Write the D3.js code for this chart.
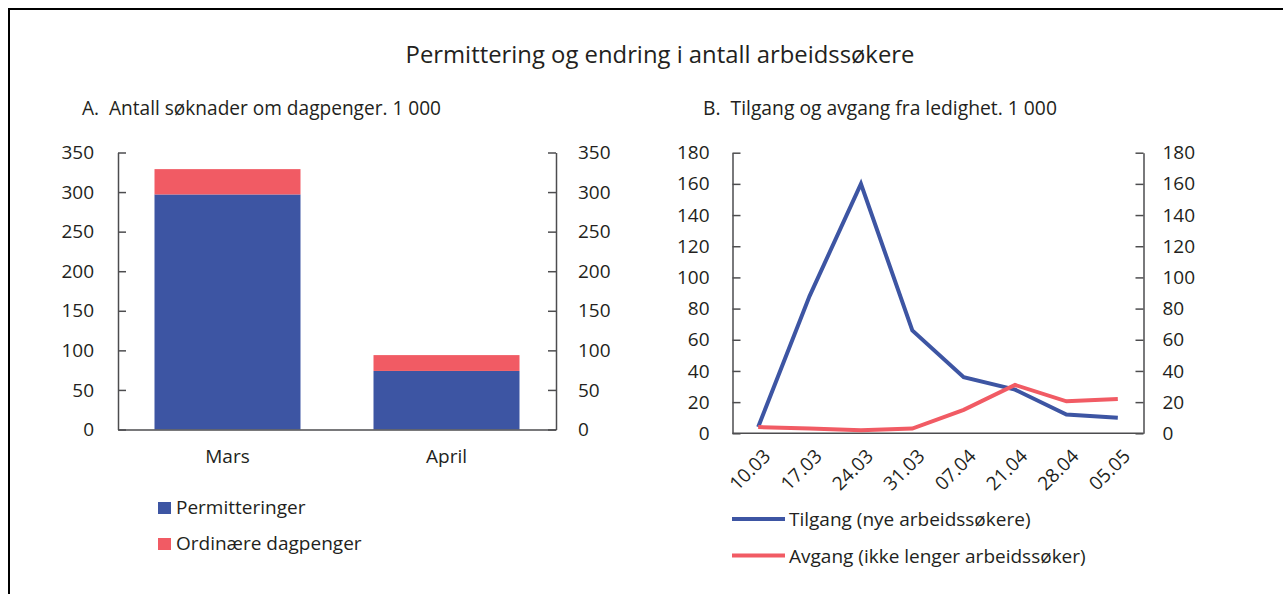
<!DOCTYPE html>
<html>
<head>
<meta charset="utf-8">
<script src="https://cdn.jsdelivr.net/npm/d3@7"></script>
<style>
  html, body { margin: 0; padding: 0; background: #fff; }
  svg { display: block; }
  text { font-family: "Open Sans", "Noto Sans", sans-serif; fill: #231f20; }
</style>
</head>
<body>
<svg id="chart" width="1283" height="594"></svg>
<script>
// ---- Data ----
const title = "Permittering og endring i antall arbeidssøkere";
const titleA = "A.  Antall søknader om dagpenger. 1 000";
const titleB = "B.  Tilgang og avgang fra ledighet. 1 000";

const monthsA = ["Mars", "April"];
const permitteringer = [297, 74];
const ordinaere = [32, 20];
const seriesA = ["Permitteringer", "Ordinære dagpenger"];
const ticksA = [0, 50, 100, 150, 200, 250, 300, 350];

const datesB = ["10.03", "17.03", "24.03", "31.03", "07.04", "21.04", "28.04", "05.05"];
const tilgang = [4, 88, 160, 66, 36, 28, 12, 10];
const avgang = [4, 3, 2, 3, 15, 31, 20.5, 22];
const seriesB = ["Tilgang (nye arbeidssøkere)", "Avgang (ikke lenger arbeidssøker)"];
const ticksB = [0, 20, 40, 60, 80, 100, 120, 140, 160, 180];

const BLUE = "#3d55a3";
const RED = "#f15b64";
const AXIS = "#4d4d4f";

const svg = d3.select("#chart");

// Frame
svg.append("path")
  .attr("d", "M9,594 V9 H1283")
  .attr("fill", "none").attr("stroke", "#000").attr("stroke-width", 2);

function fit(sel, w) {
  const node = sel.node();
  const fs = parseFloat(sel.attr("font-size"));
  const len = node.getComputedTextLength();
  sel.attr("font-size", (fs * w / len).toFixed(2));
}

// Titles
fit(svg.append("text").attr("x", 660).attr("y", 63).attr("text-anchor", "middle")
  .attr("font-size", 22).text(title), 509);
fit(svg.append("text").attr("x", 82).attr("y", 115)
  .attr("font-size", 18).attr("xml:space", "preserve").style("white-space", "pre").text(titleA), 359);
fit(svg.append("text").attr("x", 703).attr("y", 115)
  .attr("font-size", 18).style("white-space", "pre").text(titleB), 354);

const TICK_FS = 19;

// ---------- Panel A ----------
const xA = d3.scaleBand().domain(monthsA).range([118, 556]).paddingInner(1/3).paddingOuter(1/6);
const yA = d3.scaleLinear().domain([0, 350]).range([429.5, 152.5]);

const stackData = monthsA.map((m, i) => ({ month: m, p: permitteringer[i], o: ordinaere[i] }));
const stacked = d3.stack().keys(["p", "o"])(stackData);
const colA = [BLUE, RED];

stacked.forEach((layer, li) => {
  svg.append("g").selectAll("rect").data(layer).join("rect")
    .attr("x", d => xA(d.data.month))
    .attr("width", xA.bandwidth())
    .attr("y", d => yA(d[1]))
    .attr("height", d => yA(d[0]) - yA(d[1]))
    .attr("fill", colA[li]);
});

function styleAxis(g) {
  g.select(".domain").attr("stroke", AXIS).attr("stroke-width", 1.5);
  g.selectAll(".tick line").attr("stroke", AXIS).attr("stroke-width", 1.5);
  g.selectAll(".tick text").attr("font-size", TICK_FS).attr("fill", "#231f20")
    .attr("font-family", "'Open Sans', sans-serif");
}

// left axis A (ticks inward)
svg.append("g").attr("transform", "translate(118,0)")
  .call(d3.axisLeft(yA).tickValues(ticksA).tickSize(-8).tickSizeOuter(0).tickPadding(24))
  .call(styleAxis);
svg.append("g").attr("transform", "translate(556,0)")
  .call(d3.axisRight(yA).tickValues(ticksA).tickSize(-8).tickSizeOuter(0).tickPadding(22))
  .call(styleAxis);
// bottom axis A
svg.append("g").attr("transform", "translate(0,429.5)")
  .call(d3.axisBottom(xA).tickSize(0).tickSizeOuter(0).tickPadding(16))
  .call(styleAxis)
  .call(g => g.selectAll(".tick text").attr("dy", "0.9em"));

// legend A
const legA = svg.append("g");
seriesA.forEach((s, i) => {
  legA.append("rect").attr("x", 158).attr("y", 502 + i * 36).attr("width", 13).attr("height", 12).attr("fill", colA[i]);
  legA.append("text").attr("x", 176).attr("y", 513.5 + i * 36).attr("font-size", 19).text(s);
});

// ---------- Panel B ----------
const xB = d3.scalePoint().domain(datesB).range([732.5, 1143.5]).padding(0.5);
const yB = d3.scaleLinear().domain([0, 180]).range([433.3, 152.7]);

svg.append("g").attr("transform", "translate(732.5,0)")
  .call(d3.axisLeft(yB).tickValues(ticksB).tickSize(-8).tickSizeOuter(0).tickPadding(23))
  .call(styleAxis);
svg.append("g").attr("transform", "translate(1143.5,0)")
  .call(d3.axisRight(yB).tickValues(ticksB).tickSize(-8).tickSizeOuter(0).tickPadding(19))
  .call(styleAxis);
const xAxB = svg.append("g").attr("transform", "translate(0,433.3)")
  .call(d3.axisBottom(xB).tickSize(0).tickSizeOuter(0))
  .call(styleAxis);
xAxB.select(".domain").attr("d", "M732.5,0H1143.5");
xAxB.selectAll(".tick text")
  .attr("text-anchor", "end")
  .attr("dy", 0).attr("y", 0)
  .attr("transform", "translate(13,24) rotate(-45)");

const line = d3.line().x((d, i) => xB(datesB[i])).y(d => yB(d));
const colB = [BLUE, RED];
[tilgang, avgang].forEach((s, i) => {
  svg.append("path").datum(s).attr("d", line)
    .attr("fill", "none").attr("stroke", colB[i]).attr("stroke-width", 4)
    .attr("stroke-linejoin", "miter");
});

// legend B
seriesB.forEach((s, i) => {
  svg.append("line").attr("x1", 732).attr("x2", 785).attr("y1", 519 + i * 36.5).attr("y2", 519 + i * 36.5)
    .attr("stroke", colB[i]).attr("stroke-width", 4);
  svg.append("text").attr("x", 789).attr("y", 526 + i * 36.5).attr("font-size", 19).text(s);
});
</script>
</body>
</html>
